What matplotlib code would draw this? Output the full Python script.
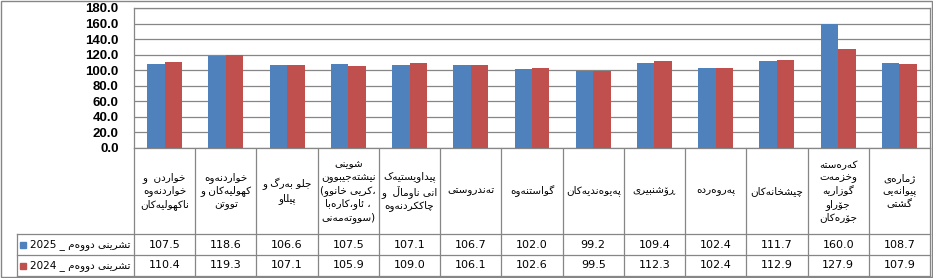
import numpy as np
import matplotlib
matplotlib.use('Agg')
import matplotlib.pyplot as plt
from matplotlib import font_manager
from matplotlib.ft2font import FT2Font
from matplotlib.transforms import blended_transform_factory
from matplotlib.patches import Rectangle

# data
categories = [
    ['خواردن  و', 'خواردنەوە', 'ناکهولیەکان'],
    ['خواردنەوە', 'کهولیەکان و', 'تووتن'],
    ['جلو بەرگ و', 'پێڵاو'],
    ['شوێنی', 'نیشتەجێبوون', '(کرێی خانوو،', 'ئاو،کارەبا ،', 'سووتەمەنی)'],
    ['پێداویستیەک', 'انی ناوماڵ  و', 'چاککردنەوە'],
    ['تەندروستی'],
    ['گواستنەوە'],
    ['پەیوەندیەکان'],
    ['ڕۆشنبیری'],
    ['پەروەردە'],
    ['چێشخانەکان'],
    ['کەرەستە', 'وخزمەت', 'گوزاریە', 'جۆراو', 'جۆرەکان'],
    ['ژمارەی', 'پێوانەیی', 'گشتی'],
]
month_name = 'تشرینی دووەم'
years = ['2025', '2024']
nov_2025 = [107.5, 118.6, 106.6, 107.5, 107.1, 106.7, 102.0, 99.2, 109.4, 102.4, 111.7, 160.0, 108.7]
nov_2024 = [110.4, 119.3, 107.1, 105.9, 109.0, 106.1, 102.6, 99.5, 112.3, 102.4, 112.9, 127.9, 107.9]
colors = ['#4F81BD', '#C0504D']

# --- small arabic shaper (matplotlib has no text shaping) ---
FORMS = {
    'ا': (0xFE8D, 0xFE8E, None, None), 'ئ': (0xFE89, 0xFE8A, 0xFE8B, 0xFE8C),
    'ب': (0xFE8F, 0xFE90, 0xFE91, 0xFE92), 'ت': (0xFE95, 0xFE96, 0xFE97, 0xFE98),
    'ج': (0xFE9D, 0xFE9E, 0xFE9F, 0xFEA0), 'ح': (0xFEA1, 0xFEA2, 0xFEA3, 0xFEA4),
    'خ': (0xFEA5, 0xFEA6, 0xFEA7, 0xFEA8), 'د': (0xFEA9, 0xFEAA, None, None),
    'ر': (0xFEAD, 0xFEAE, None, None), 'ز': (0xFEAF, 0xFEB0, None, None),
    'س': (0xFEB1, 0xFEB2, 0xFEB3, 0xFEB4), 'ش': (0xFEB5, 0xFEB6, 0xFEB7, 0xFEB8),
    'ع': (0xFEC9, 0xFECA, 0xFECB, 0xFECC), 'غ': (0xFECD, 0xFECE, 0xFECF, 0xFED0),
    'ف': (0xFED1, 0xFED2, 0xFED3, 0xFED4), 'ق': (0xFED5, 0xFED6, 0xFED7, 0xFED8),
    'ل': (0xFEDD, 0xFEDE, 0xFEDF, 0xFEE0), 'م': (0xFEE1, 0xFEE2, 0xFEE3, 0xFEE4),
    'ن': (0xFEE5, 0xFEE6, 0xFEE7, 0xFEE8), 'ه': (0xFEE9, 0xFEEA, 0xFEEB, 0xFEEC),
    'و': (0xFEED, 0xFEEE, None, None), 'ي': (0xFEF1, 0xFEF2, 0xFEF3, 0xFEF4),
    'پ': (0xFB56, 0xFB57, 0xFB58, 0xFB59), 'چ': (0xFB7A, 0xFB7B, 0xFB7C, 0xFB7D),
    'ژ': (0xFB8A, 0xFB8B, None, None), 'ڤ': (0xFB6A, 0xFB6B, 0xFB6C, 0xFB6D),
    'ک': (0xFB8E, 0xFB8F, 0xFB90, 0xFB91), 'گ': (0xFB92, 0xFB93, 0xFB94, 0xFB95),
    'ی': (0xFBFC, 0xFBFD, 0xFBFE, 0xFBFF), 'ۆ': (0xFBD9, 0xFBDA, None, None),
    'ە': (0x06D5, 0xFEEA, None, None), 'ڕ': (0x0695, 0x0695, None, None),
    'ڵ': (0x06B5, 0xFEDE, 0xFEDF, 0xFEE0), 'ێ': (0x06CE, 0xFBFD, 0xFEF3, 0xFEF4),
}
charmap = FT2Font(font_manager.findfont('DejaVu Sans')).get_charmap()


def shape(s):
    out = []
    for i, c in enumerate(s):
        if c not in FORMS:
            out.append(c)
            continue
        f = FORMS[c]
        prev = s[i - 1] if i > 0 else ''
        nxt = s[i + 1] if i + 1 < len(s) else ''
        jp = prev in FORMS and FORMS[prev][2] is not None
        jn = f[2] is not None and nxt in FORMS
        code = f[3] if (jp and jn) else f[2] if jn else f[1] if jp else f[0]
        out.append(chr(code) if code in charmap else c)
    return ''.join(out)


def visual(s):
    sh = shape(s)
    kind = ['R' if c in FORMS else ('L' if c.isalnum() else 'N') for c in s]
    res = list(kind)
    for i, k in enumerate(kind):
        if k == 'N':
            p = next((kind[j] for j in range(i - 1, -1, -1) if kind[j] != 'N'), 'L')
            n = next((kind[j] for j in range(i + 1, len(s)) if kind[j] != 'N'), 'L')
            res[i] = 'R' if p == n == 'R' else 'L'
    out, i = '', 0
    while i < len(s):
        j = i
        while j < len(s) and res[j] == res[i]:
            j += 1
        out += sh[i:j][::-1] if res[i] == 'R' else sh[i:j]
        i = j
    return out


W, H = 933, 278
fig = plt.figure(figsize=(W / 100, H / 100), dpi=100)
ov = fig.add_axes([0, 0, 1, 1], zorder=-1)
ov.set_xlim(0, W)
ov.set_ylim(H, 0)
ov.axis('off')

ax = fig.add_axes([134 / W, 1 - 148 / H, 796 / W, 140 / H])
x = np.arange(len(nov_2025))
w = 0.285
ax.bar(x - w / 2, nov_2025, w, color=colors[0], zorder=3)
ax.bar(x + w / 2, nov_2024, w, color=colors[1], zorder=3)
ax.set_xlim(-0.5, len(x) - 0.5)
ax.set_ylim(0, 180)
ax.set_yticks(np.arange(0, 181, 20))
ax.set_yticklabels(['%.1f' % v for v in np.arange(0, 181, 20)],
                   fontfamily='Liberation Sans', fontweight='bold', fontsize=9.5)
ax.tick_params(axis='y', length=0, pad=11)
ax.set_xticks([])
ax.grid(axis='y', color='#868686', lw=0.9, zorder=0)
for sp in ax.spines.values():
    sp.set_color('#868686')
    sp.set_linewidth(0.9)

# data table under the plot
gray = '#868686'
tr = blended_transform_factory(ax.transData, ov.transData)
for e in np.arange(len(x) + 1) - 0.5:
    ov.plot([e, e], [148, 276], color=gray, lw=0.9, transform=tr, clip_on=False)
ov.plot([17, 17], [234, 276], color=gray, lw=0.9)
for yy in [234, 255, 276]:
    ov.plot([17, 930], [yy, yy], color=gray, lw=0.9)

for i, lines in enumerate(categories):
    ov.text(i, 191, '\n'.join(visual(l) for l in lines), transform=tr,
            ha='center', va='center', fontsize=7.5, family='DejaVu Sans',
            linespacing=1.3)

for r, (vals, yr, c) in enumerate(zip([nov_2025, nov_2024], years, colors)):
    yc = 244.5 + 21 * r
    for i, v in enumerate(vals):
        ov.text(i, yc, '%.1f' % v, transform=tr, ha='center', va='center',
                fontsize=8, family='DejaVu Sans')
    ov.add_patch(Rectangle((20, yc - 3), 6, 6, color=c))
    ov.text(30, yc, yr + ' _ ' + visual(month_name), ha='left', va='center',
            fontsize=7.5, family='DejaVu Sans')

ov.add_patch(Rectangle((0.5, 0.5), W - 1.5, H - 1.5, fill=False, ec=gray, lw=1))

fig.savefig('out.png', dpi=100)
